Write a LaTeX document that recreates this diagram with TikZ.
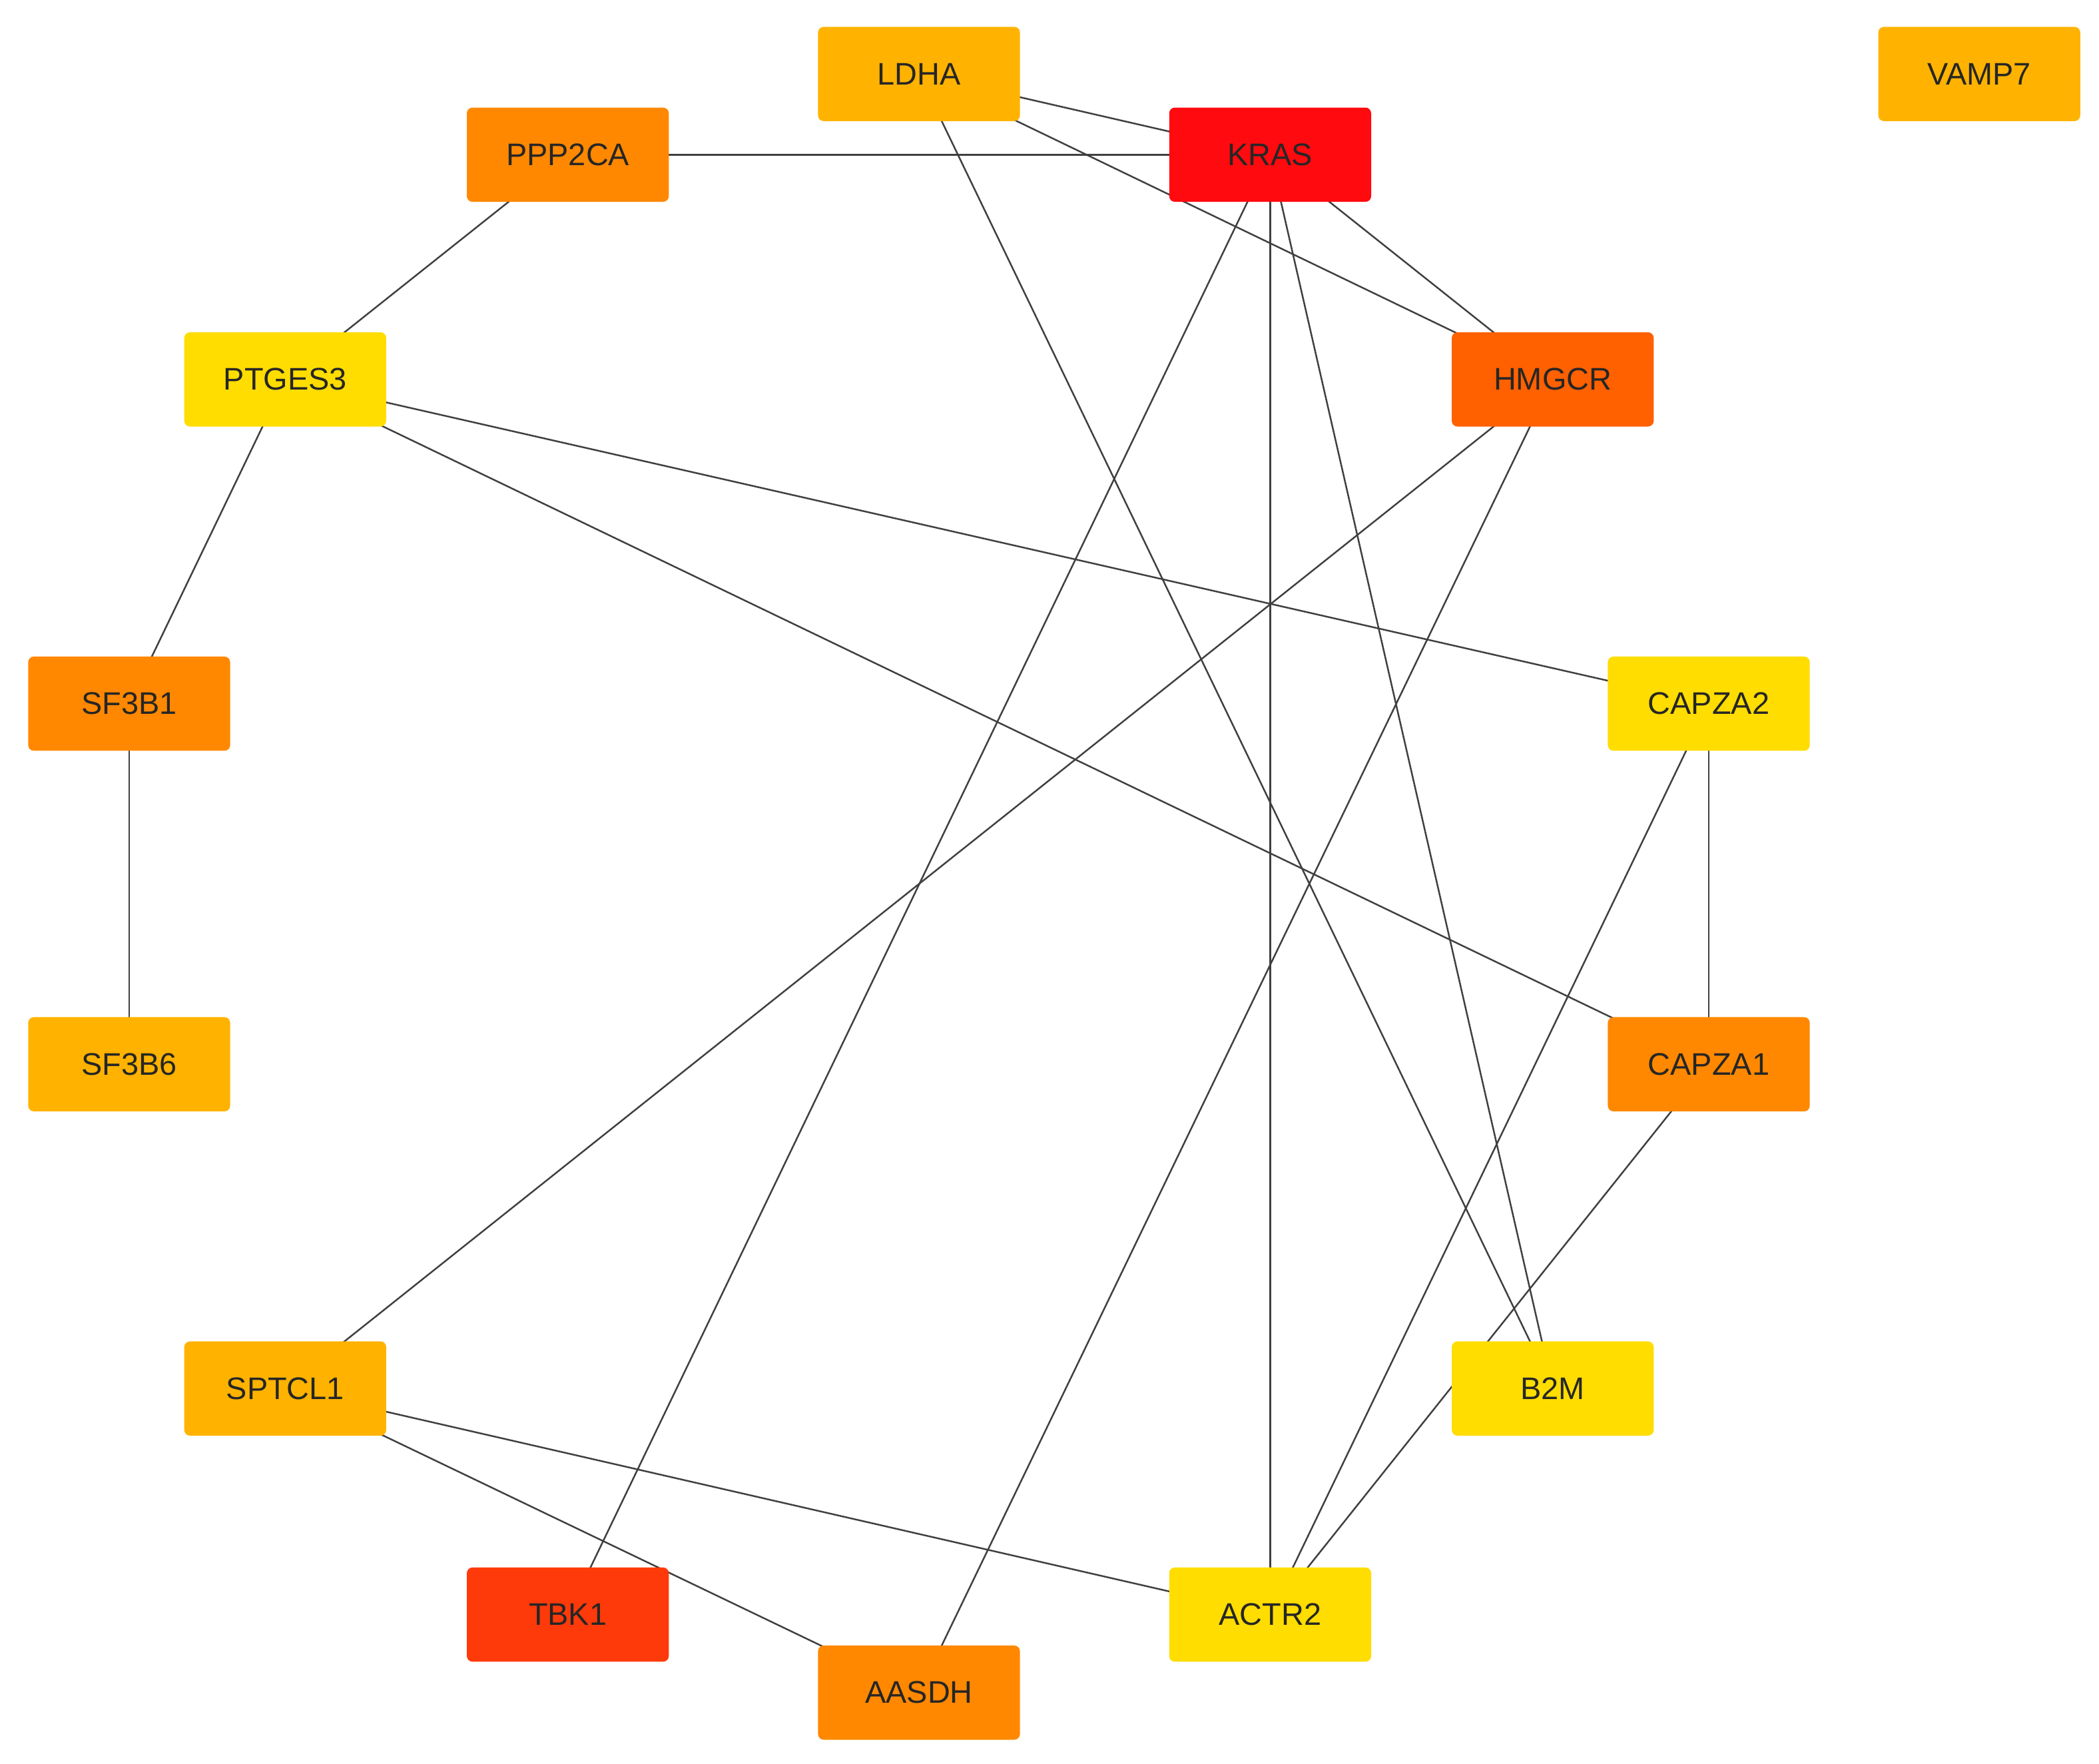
\documentclass[tikz,border=0pt]{standalone}
\usepackage{fontspec}
\setmainfont{Liberation Sans}
\usetikzlibrary{backgrounds}
\definecolor{cA}{HTML}{FFB300}
\definecolor{cB}{HTML}{FF8800}
\definecolor{cC}{HTML}{FFDD00}
\definecolor{cK}{HTML}{FF0A0F}
\definecolor{cH}{HTML}{FF6000}
\definecolor{cT}{HTML}{FF3A0A}
\tikzset{gene/.style={rectangle,rounded corners=1.2pt,minimum width=1.5cm,minimum height=0.7cm,font=\fontsize{6.6}{8}\selectfont,text=black!85},
edge/.style={draw=black!75,line width=0.35pt}}
\begin{document}
\begin{tikzpicture}[x=0.01cm,y=-0.01cm]
\useasboundingbox (0,0) rectangle (1560,1310.6);
\node[gene,fill=cA] (LDHA) at (683,55) {LDHA};
\node[gene,fill=cK] (KRAS) at (944,115) {KRAS};
\node[gene,fill=cA] (VAMP7) at (1471,55) {VAMP7};
\node[gene,fill=cB] (PPP2CA) at (422,115) {PPP2CA};
\node[gene,fill=cC] (PTGES3) at (212,282) {PTGES3};
\node[gene,fill=cH] (HMGCR) at (1154,282) {HMGCR};
\node[gene,fill=cB] (SF3B1) at (96,523) {SF3B1};
\node[gene,fill=cC] (CAPZA2) at (1270,523) {CAPZA2};
\node[gene,fill=cA] (SF3B6) at (96,791) {SF3B6};
\node[gene,fill=cB] (CAPZA1) at (1270,791) {CAPZA1};
\node[gene,fill=cA] (SPTCL1) at (212,1032) {SPTCL1};
\node[gene,fill=cC] (B2M) at (1154,1032) {B2M};
\node[gene,fill=cT] (TBK1) at (422,1200) {TBK1};
\node[gene,fill=cC] (ACTR2) at (944,1200) {ACTR2};
\node[gene,fill=cB] (AASDH) at (683,1258) {AASDH};
\begin{scope}[on background layer]
\foreach \a/\b in {LDHA/KRAS,LDHA/HMGCR,LDHA/B2M,PPP2CA/KRAS,PPP2CA/PTGES3,KRAS/HMGCR,KRAS/TBK1,KRAS/ACTR2,KRAS/B2M,PTGES3/SF3B1,PTGES3/CAPZA2,PTGES3/CAPZA1,HMGCR/SPTCL1,HMGCR/AASDH,SF3B1/SF3B6,CAPZA2/CAPZA1,CAPZA2/ACTR2,CAPZA1/ACTR2,SPTCL1/ACTR2,SPTCL1/AASDH}
  \draw[edge] (\a.center) -- (\b.center);
\end{scope}
\end{tikzpicture}
\end{document}
